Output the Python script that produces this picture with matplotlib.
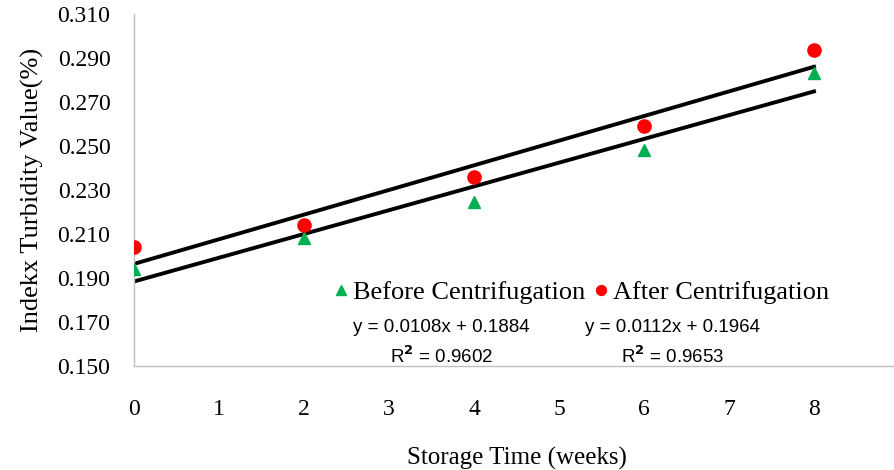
import numpy as np
import matplotlib.pyplot as plt

# Data
weeks = [0, 2, 4, 6, 8]
before = [0.194, 0.208, 0.2245, 0.248, 0.283]
after = [0.204, 0.214, 0.236, 0.259, 0.2935]

# Linear trend lines (as printed on the chart)
before_fit = (0.0108, 0.1884)
after_fit = (0.0112, 0.1964)

plt.rcParams['font.family'] = 'Liberation Serif'

fig = plt.figure(figsize=(8.94, 4.70), dpi=100)
ax = fig.add_axes([0.1499, 0.2213, 0.8557, 0.749])

x_line = np.array([0, 8])
ax.plot(x_line, after_fit[0] * x_line + after_fit[1], color='black', lw=2.8, zorder=2)
ax.plot(x_line, before_fit[0] * x_line + before_fit[1], color='black', lw=2.8, zorder=2)

ax.plot(weeks, before, '^', color='#00b050', ms=9, ls='none',
        label='Before Centrifugation', zorder=3)
ax.plot(weeks, after, 'o', color='#ff0000', ms=9.5, ls='none',
        label='After Centrifugation', zorder=3)

ax.set_xlim(0, 9)
ax.set_ylim(0.150, 0.310)
ax.set_xticks(range(0, 10))
ax.set_yticks(np.arange(0.150, 0.311, 0.020))
ax.set_yticklabels([f'{v:.3f}' for v in np.arange(0.150, 0.311, 0.020)])
ax.tick_params(length=0, labelsize=17)
ax.tick_params(axis='x', pad=24)
ax.tick_params(axis='y', pad=17)

for s in ['top', 'right']:
    ax.spines[s].set_visible(False)
for s in ['left', 'bottom']:
    ax.spines[s].set_color('#bfbfbf')
    ax.spines[s].set_linewidth(1)

ax.set_xlabel('Storage Time (weeks)', fontsize=18, labelpad=19)
ax.set_ylabel('Indekx Turbidity Value(%)', fontsize=19, labelpad=10)

ax.legend(loc='center', bbox_to_anchor=(0.583, 0.21), ncol=2, frameon=False,
          fontsize=19, handletextpad=0.05, columnspacing=0.2, handlelength=0.8,
          markerscale=0.75, borderaxespad=0, borderpad=0)

eq_font = dict(family='Liberation Sans', fontsize=13.5, ha='center', va='center')
ax.text(3.61, 0.1677, 'y = 0.0108x + 0.1884', **eq_font)
ax.text(3.62, 0.1545, 'R$^\\mathbf{2}$ = 0.9602', **eq_font)
ax.text(6.33, 0.1677, 'y = 0.0112x + 0.1964', **eq_font)
ax.text(6.34, 0.1545, 'R$^\\mathbf{2}$ = 0.9653', **eq_font)

fig.savefig('out.png', dpi=100)
